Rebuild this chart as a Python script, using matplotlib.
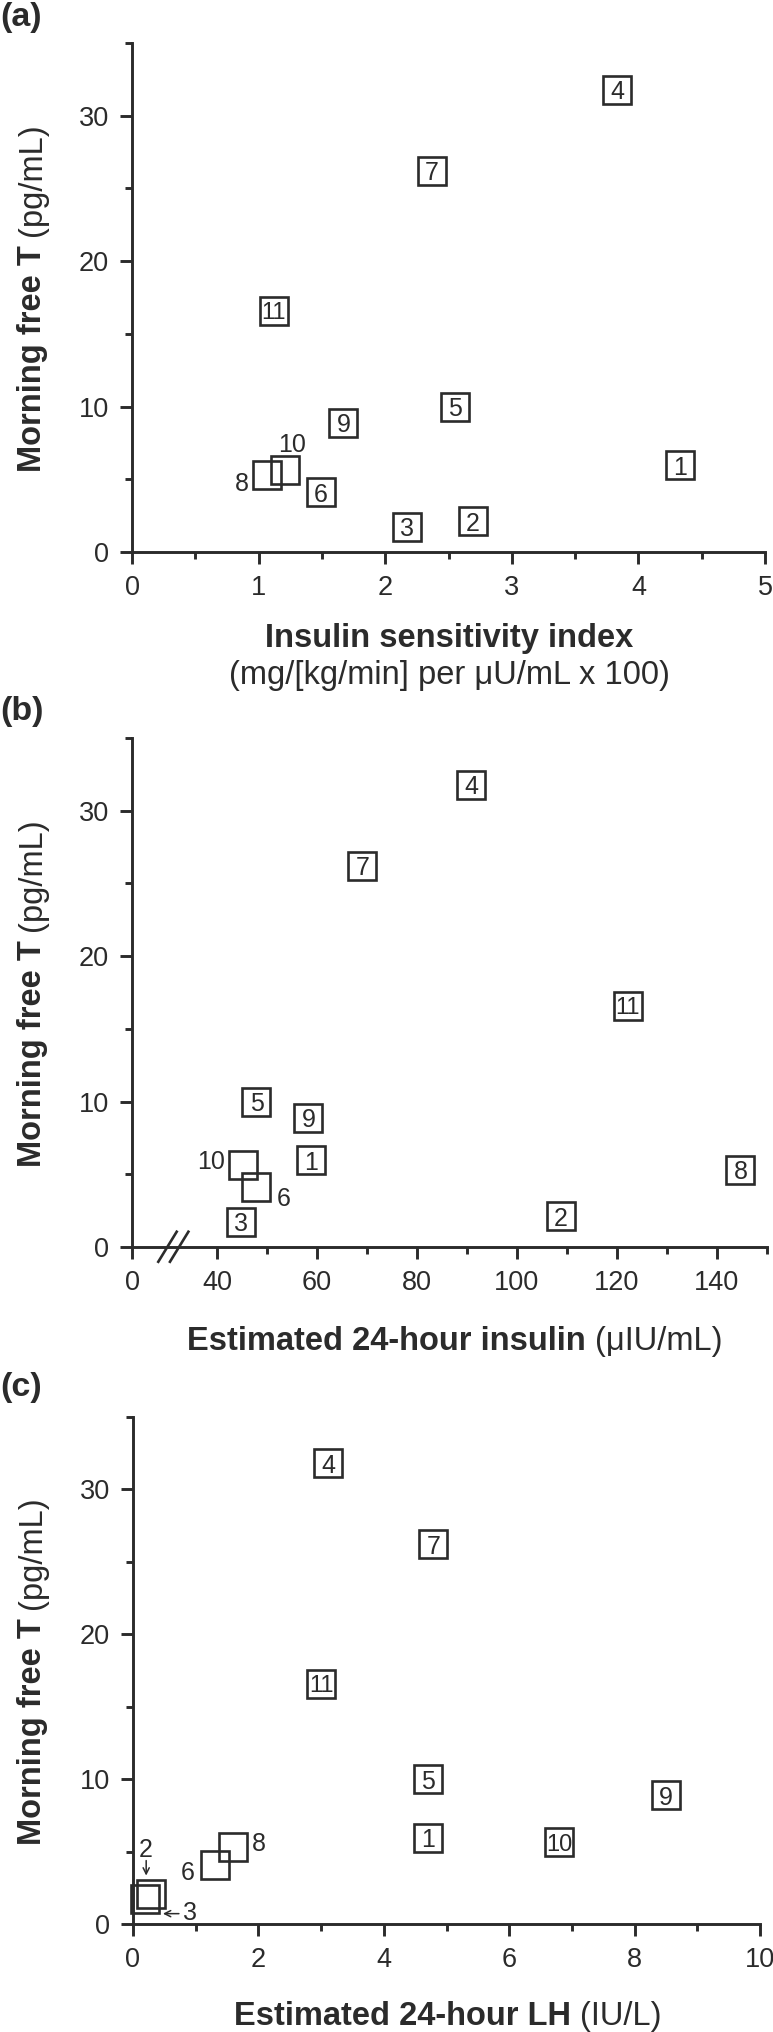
import matplotlib
matplotlib.use("Agg")
import matplotlib.pyplot as plt
import numpy as np
from matplotlib import font_manager
from matplotlib.transforms import IdentityTransform, offset_copy

# =============================================================
# Morning free T versus insulin sensitivity, 24-h insulin and 24-h LH
# Three stacked scatter panels, each subject drawn as a numbered square
# =============================================================

SUBJECTS = list(range(1, 12))
FREE_T = [5.95, 2.1, 1.75, 31.8, 10.0, 4.1, 26.2, 5.3, 8.9, 5.65, 16.6]

INSULIN_SENS = [4.33, 2.69, 2.17, 3.83, 2.55, 1.49, 2.37, 1.07, 1.67, 1.21, 1.12]
INSULIN_24H = [58.8, 108.8, 44.8, 90.8, 47.9, 47.9, 69.1, 144.7, 58.3, 45.1, 122.2]
LH_24H = [4.71, 0.29, 0.19, 3.11, 4.70, 1.30, 4.79, 1.60, 8.50, 6.80, 3.00]

# subjects whose square is left empty, with the number written outside
# (offsets in pixels from the square centre)
OUTSIDE_A = {8: (-26, -7), 10: (7, 27)}
OUTSIDE_B = {10: (-31, 5), 6: (27, -9)}
OUTSIDE_C = {2: (-5, 46), 3: (45, -12), 6: (-27, -6), 8: (26, 6)}
ARROWS_C = {2: ((-5, 33), (-5, 18)), 3: ((34, -15), (18, -15))}

W, H, DPI = 773, 2032, 100
COR = "#2b2b2b"

nomes = {f.name for f in font_manager.fontManager.ttflist}
FONTE = "Liberation Sans"
FONTE_ESTREITA = "Liberation Sans Narrow" if "Liberation Sans Narrow" in nomes else FONTE

plt.rcParams.update({
    "font.family": FONTE,
    "text.color": COR,
    "axes.edgecolor": COR,
    "xtick.color": COR,
    "ytick.color": COR,
})


def escala_quebrada():
    """Eixo x do painel (b): 0-40 comprimido, linear a partir de 40."""
    def fwd(x):
        x = np.asarray(x, dtype=float)
        return np.where(x >= 40, x, 23.0 + x*17.0/40.0)

    def inv(y):
        y = np.asarray(y, dtype=float)
        return np.where(y >= 40, y, (y - 23.0)*40.0/17.0)

    return fwd, inv


def configurar_eixos(ax, xlim, xmaj, xmin):
    ax.set_xlim(*xlim)
    ax.set_ylim(0, 35)
    ax.set_xticks(xmaj)
    ax.set_xticks(xmin, minor=True)
    ax.set_yticks([0, 10, 20, 30])
    ax.set_yticks([5, 15, 25, 35], minor=True)
    for lado in ["top", "right"]:
        ax.spines[lado].set_visible(False)
    for lado in ["left", "bottom"]:
        ax.spines[lado].set_linewidth(2.1)
    ax.tick_params(which="major", length=8.5, width=2.1, pad=8, labelsize=19.5)
    ax.tick_params(which="minor", length=5, width=2.1)
    ax.patch.set_alpha(0)


def desenhar_pontos(ax, xs, fora, setas=None):
    ax.plot(xs, FREE_T, linestyle="none", marker="s", markersize=19.5,
            markeredgewidth=1.9, markerfacecolor="none", markeredgecolor=COR,
            clip_on=False, zorder=3)

    for s, x, y in zip(SUBJECTS, xs, FREE_T):
        if s in fora:
            ax.annotate(str(s), xy=(x, y), xytext=fora[s], textcoords="offset pixels",
                        ha="center", va="center_baseline", fontsize=18,
                        annotation_clip=False)
        else:
            tam = 18 if s < 10 else 17
            fam = FONTE if s < 10 else FONTE_ESTREITA
            ax.text(x, y, str(s), ha="center", va="center_baseline",
                    fontsize=tam, family=fam, zorder=4, clip_on=False)

    if setas:
        fig = ax.figure
        for s, (cauda, ponta) in setas.items():
            x, y = xs[s - 1], FREE_T[s - 1]
            t_cauda = offset_copy(ax.transData, fig=fig, x=cauda[0], y=cauda[1], units="dots")
            t_ponta = offset_copy(ax.transData, fig=fig, x=ponta[0], y=ponta[1], units="dots")
            ax.annotate("", xy=(x, y), xycoords=t_ponta, xytext=(x, y), textcoords=t_cauda,
                        arrowprops=dict(arrowstyle="->", lw=1.1, color=COR,
                                        shrinkA=0, shrinkB=0, mutation_scale=11),
                        annotation_clip=False)


def rotulo_misto(fig, partes, xc, yc, tamanho, vertical=False):
    """Escreve partes (texto, peso) lado a lado, centradas em (xc, yc) pixels a partir do topo."""
    renderer = fig.canvas.get_renderer()
    rot = 90 if vertical else 0
    textos = []
    for conteudo, peso in partes:
        t = fig.text(0, 0, conteudo, fontsize=tamanho, fontweight=peso, rotation=rot,
                     rotation_mode="anchor", ha="left", va="baseline",
                     transform=IdentityTransform())
        textos.append(t)

    espaco = 0.278*tamanho*DPI/72.0
    comps = []
    for t in textos:
        bb = t.get_window_extent(renderer)
        comps.append(bb.height if vertical else bb.width)
    total = sum(comps) + espaco*(len(textos) - 1)

    yd = H - yc
    pos = -total/2.0
    for t, c in zip(textos, comps):
        if vertical:
            t.set_position((xc, yd + pos))
        else:
            t.set_position((xc + pos, yd))
        pos += c + espaco


def main():
    fig = plt.figure(figsize=(W/DPI, H/DPI), dpi=DPI)

    # caixas dos eixos em pixels: (esquerda, direita, topo, base)
    caixas = [(132, 765, 43, 552), (132, 767, 738, 1247), (133, 760, 1417, 1924)]
    eixos = []
    for esq, dir_, topo, base in caixas:
        ax = fig.add_axes([esq/W, 1 - base/H, (dir_ - esq)/W, (base - topo)/H])
        eixos.append(ax)
    ax_a, ax_b, ax_c = eixos

    # (a) sensibilidade à insulina
    configurar_eixos(ax_a, (0, 5), [0, 1, 2, 3, 4, 5], [0.5, 1.5, 2.5, 3.5, 4.5])
    desenhar_pontos(ax_a, INSULIN_SENS, OUTSIDE_A)

    # (b) insulina 24 h, eixo com quebra entre 0 e 40
    ax_b.set_xscale("function", functions=escala_quebrada())
    configurar_eixos(ax_b, (0, 150), [0, 40, 60, 80, 100, 120, 140],
                     [50, 70, 90, 110, 130, 150])
    desenhar_pontos(ax_b, INSULIN_24H, OUTSIDE_B)
    for x0 in [0.0414, 0.0598]:
        ax_b.plot([x0, x0 + 0.029], [-0.029, 0.030], transform=ax_b.transAxes,
                  color=COR, lw=1.9, clip_on=False, zorder=5)

    # (c) LH 24 h
    configurar_eixos(ax_c, (0, 10), [0, 2, 4, 6, 8, 10], [1, 3, 5, 7, 9])
    desenhar_pontos(ax_c, LH_24H, OUTSIDE_C, ARROWS_C)

    # rótulos dos painéis
    for letra, base in [("(a)", 26), ("(b)", 720), ("(c)", 1396)]:
        fig.text(0, H - base, letra, fontsize=24.5, fontweight="bold",
                 ha="left", va="baseline", transform=IdentityTransform())

    # rótulos dos eixos
    for ax, (esq, dir_, topo, base) in zip(eixos, caixas):
        rotulo_misto(fig, [("Morning free T", "bold"), ("(pg/mL)", "normal")],
                     41, (topo + base)/2.0, 23.5, vertical=True)

    fig.text(449, H - 647, "Insulin sensitivity index", fontsize=23.5, fontweight="bold",
             ha="center", va="baseline", transform=IdentityTransform())
    fig.text(449, H - 684, "(mg/[kg/min] per \u03bcU/mL x 100)", fontsize=23.5,
             ha="center", va="baseline", transform=IdentityTransform())

    rotulo_misto(fig, [("Estimated 24-hour insulin", "bold"), ("(\u03bcIU/mL)", "normal")],
                 455, 1350, 23.5)
    rotulo_misto(fig, [("Estimated 24-hour LH", "bold"), ("(IU/L)", "normal")],
                 448, 2025, 23.5)

    fig.savefig("out.png", dpi=DPI)
    plt.close(fig)


if __name__ == "__main__":
    main()
